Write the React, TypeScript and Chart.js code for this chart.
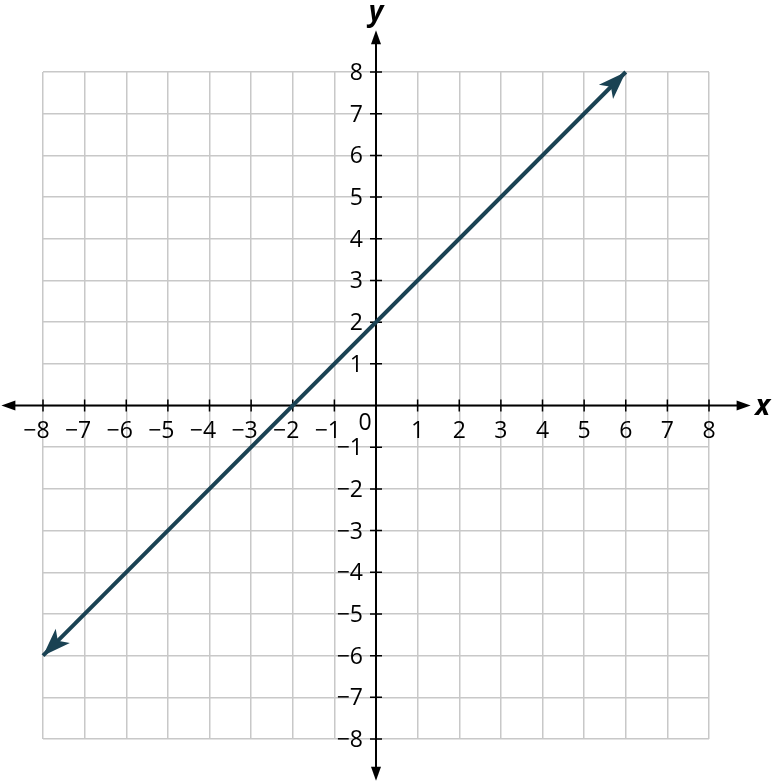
import { useEffect, useRef } from 'react';
import { Chart, registerables } from 'chart.js';

Chart.register(...registerables);

// tick values on both axes
const xTicks = [-8, -7, -6, -5, -4, -3, -2, -1, 0, 1, 2, 3, 4, 5, 6, 7, 8];
const yTicks = [-8, -7, -6, -5, -4, -3, -2, -1, 0, 1, 2, 3, 4, 5, 6, 7, 8];
// the graphed line y = x + 2, from its lower arrow to its upper arrow
const lineX = [-8, 6];
const lineY = [-6, 8];
// axes run one unit past the grid
const axisExtent = 9;

const LINE_COLOR = '#1a4253';
const FONT = '"Open Sans", "Noto Sans", sans-serif';

const fmt = (v: number) => (v < 0 ? '\u2212' + Math.abs(v) : String(v));

function arrowHead(
  ctx: CanvasRenderingContext2D,
  tipX: number,
  tipY: number,
  angle: number,
  len: number,
  half: number,
  notch: number
) {
  ctx.save();
  ctx.translate(tipX, tipY);
  ctx.rotate(angle);
  ctx.beginPath();
  ctx.moveTo(0, 0);
  ctx.lineTo(-len, -half);
  ctx.lineTo(-len + notch, 0);
  ctx.lineTo(-len, half);
  ctx.closePath();
  ctx.fill();
  ctx.restore();
}

const axesPlugin = {
  id: 'axesPlugin',
  beforeDatasetsDraw(chart: Chart) {
    const { ctx } = chart;
    const xs = chart.scales.x;
    const ys = chart.scales.y;
    const ox = xs.getPixelForValue(0);
    const oy = ys.getPixelForValue(0);
    const left = xs.getPixelForValue(-axisExtent);
    const right = xs.getPixelForValue(axisExtent);
    const top = ys.getPixelForValue(axisExtent);
    const bottom = ys.getPixelForValue(-axisExtent);

    ctx.save();
    ctx.strokeStyle = '#000';
    ctx.fillStyle = '#000';
    ctx.lineWidth = 2;
    ctx.beginPath();
    ctx.moveTo(left + 8, oy);
    ctx.lineTo(right - 8, oy);
    ctx.moveTo(ox, top + 8);
    ctx.lineTo(ox, bottom - 8);
    ctx.stroke();

    arrowHead(ctx, left, oy, Math.PI, 14, 5, 0);
    arrowHead(ctx, right, oy, 0, 14, 5, 0);
    arrowHead(ctx, ox, top, -Math.PI / 2, 14, 5, 0);
    arrowHead(ctx, ox, bottom, Math.PI / 2, 14, 5, 0);

    // small tick marks
    ctx.lineWidth = 1.5;
    ctx.beginPath();
    xTicks.forEach((v) => {
      if (v === 0) return;
      const px = xs.getPixelForValue(v);
      ctx.moveTo(px, oy - 6);
      ctx.lineTo(px, oy + 6);
    });
    yTicks.forEach((v) => {
      if (v === 0) return;
      const py = ys.getPixelForValue(v);
      ctx.moveTo(ox - 6, py);
      ctx.lineTo(ox + 6, py);
    });
    ctx.stroke();

    // tick labels
    ctx.font = `23px ${FONT}`;
    ctx.textBaseline = 'alphabetic';
    xTicks.forEach((v) => {
      if (v === 0) return;
      const px = xs.getPixelForValue(v);
      const numW = ctx.measureText(String(Math.abs(v))).width;
      ctx.textAlign = 'right';
      ctx.fillText(fmt(v), px + numW / 2, oy + 32);
    });
    yTicks.forEach((v) => {
      if (v === 0) return;
      const py = ys.getPixelForValue(v);
      ctx.textAlign = 'right';
      ctx.fillText(fmt(v), ox - 13, py + 8);
    });
    ctx.textAlign = 'center';
    ctx.fillText('0', ox - 11, oy + 24);

    // axis names
    ctx.font = `italic bold 28px ${FONT}`;
    ctx.textAlign = 'center';
    ctx.fillText('y', ox, 21);
    ctx.fillText('x', xs.getPixelForValue(axisExtent) + 12, oy + 9);
    ctx.restore();
  },
  afterDatasetsDraw(chart: Chart) {
    const { ctx } = chart;
    const xs = chart.scales.x;
    const ys = chart.scales.y;
    const x0 = xs.getPixelForValue(lineX[0]);
    const y0 = ys.getPixelForValue(lineY[0]);
    const x1 = xs.getPixelForValue(lineX[1]);
    const y1 = ys.getPixelForValue(lineY[1]);
    const ang = Math.atan2(y1 - y0, x1 - x0);
    ctx.save();
    ctx.fillStyle = LINE_COLOR;
    arrowHead(ctx, x1, y1, ang, 28, 10, 7);
    arrowHead(ctx, x0, y0, ang + Math.PI, 28, 10, 7);
    ctx.restore();
  },
};

export default function App() {
  const chartRef = useRef<HTMLCanvasElement>(null);
  const chartInstance = useRef<Chart | null>(null);

  useEffect(() => {
    if (!chartRef.current) return;
    if (chartInstance.current) {
      chartInstance.current.destroy();
    }
    const ctx = chartRef.current.getContext('2d');
    if (!ctx) return;

    const grid = {
      color: '#c8c8c8',
      lineWidth: 1.5,
      drawTicks: false,
    };

    chartInstance.current = new Chart(ctx, {
      type: 'scatter',
      data: {
        datasets: [
          {
            data: lineX.map((x, i) => ({ x, y: lineY[i] })),
            showLine: true,
            borderColor: LINE_COLOR,
            borderWidth: 4,
            pointRadius: 0,
            clip: false,
          },
        ],
      },
      options: {
        responsive: false,
        animation: false,
        devicePixelRatio: 1,
        layout: {
          padding: { left: 43, top: 72, right: 65, bottom: 42 },
        },
        plugins: {
          legend: { display: false },
          tooltip: { enabled: false },
        },
        scales: {
          x: {
            type: 'linear',
            min: -8,
            max: 8,
            border: { display: false },
            grid,
            ticks: { display: false, stepSize: 1 },
          },
          y: {
            type: 'linear',
            min: -8,
            max: 8,
            border: { display: false },
            grid,
            ticks: { display: false, stepSize: 1 },
          },
        },
      },
      plugins: [axesPlugin],
    });

    return () => {
      if (chartInstance.current) {
        chartInstance.current.destroy();
        chartInstance.current = null;
      }
    };
  }, []);

  return (
    <div style={{ position: 'absolute', left: 0, top: 0, width: 774, height: 781, background: '#fff' }}>
      <canvas ref={chartRef} width={774} height={781}></canvas>
    </div>
  );
}
